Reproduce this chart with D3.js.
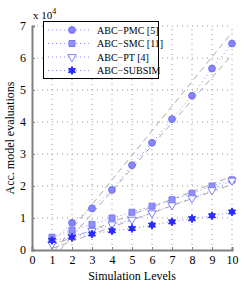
<!DOCTYPE html>
<html>
<head>
<meta charset="utf-8">
<script src="https://cdn.jsdelivr.net/npm/d3@7"></script>
<style>
  body { margin: 0; background: #fff; }
  text { font-family: "Liberation Serif", "DejaVu Serif", serif; }
</style>
</head>
<body>
<svg width="242" height="282"></svg>
<script>
const svg = d3.select("svg");

// data, in units of 10^4
const levels = [1, 2, 3, 4, 5, 6, 7, 8, 9, 10];
const pmc = [0.25, 0.85, 1.3, 1.88, 2.65, 3.35, 4.09, 4.82, 5.67, 6.45];
const smc = [0.4, 0.62, 0.8, 1.0, 1.18, 1.37, 1.57, 1.77, 2.0, 2.19];
const pt = [0.18, 0.42, 0.6, 0.8, 0.95, 1.15, 1.4, 1.62, 1.87, 2.17];
const subsim = [0.3, 0.4, 0.5, 0.6, 0.67, 0.78, 0.88, 0.98, 1.07, 1.19];
const seriesNames = ["ABC\u2212PMC [5]", "ABC\u2212SMC [11]", "ABC\u2212PT [4]", "ABC\u2212SUBSIM"];

// gray dashed guide lines: [x1, y1, x2, y2]
const guides = [
  [1.15, 0.0, 10, 6.8],
  [1.4, 0.0, 10, 6.1],
  [1, 0.15, 10, 2.3],
  [1, 0.05, 10, 2.05]
];

const xTicks = d3.range(0, 11);
const yTicks = d3.range(0, 8);

const x = d3.scaleLinear().domain([0, 10]).range([32, 232]);
const y = d3.scaleLinear().domain([0, 7]).range([250, 26]);

// six-pointed star (hexagram)
const hexagram = {
  draw(ctx, size) {
    const r = Math.sqrt(size / 2.2);
    const ri = r * 0.55;
    for (let k = 0; k < 12; k++) {
      const a = -Math.PI / 2 + k * Math.PI / 6;
      const rr = k % 2 === 0 ? r : ri;
      if (k === 0) ctx.moveTo(rr * Math.cos(a), rr * Math.sin(a));
      else ctx.lineTo(rr * Math.cos(a), rr * Math.sin(a));
    }
    ctx.closePath();
  }
};

// grid
svg.append("g").selectAll("line").data(xTicks.slice(1)).join("line")
  .attr("x1", d => x(d)).attr("x2", d => x(d))
  .attr("y1", y(0)).attr("y2", y(7))
  .attr("stroke", "#999").attr("stroke-width", 1).attr("stroke-dasharray", "1,4");
svg.append("g").selectAll("line").data(yTicks.slice(1)).join("line")
  .attr("x1", x(0)).attr("x2", x(10))
  .attr("y1", d => y(d)).attr("y2", d => y(d))
  .attr("stroke", "#999").attr("stroke-width", 1).attr("stroke-dasharray", "1,4");

// axes
const xAxis = svg.append("g").attr("transform", `translate(0,${y(0)})`)
  .call(d3.axisBottom(x).tickValues(xTicks).tickSize(-3).tickPadding(5).tickFormat(d3.format("d")));
const yAxis = svg.append("g").attr("transform", `translate(${x(0)},0)`)
  .call(d3.axisLeft(y).tickValues(yTicks).tickSize(-3).tickPadding(6).tickFormat(d3.format("d")));
[xAxis, yAxis].forEach(a => {
  a.select(".domain").attr("stroke", "#808080").attr("stroke-width", 2);
  a.selectAll(".tick line").attr("stroke", "#808080");
  a.selectAll("text").attr("font-family", "Liberation Serif").attr("font-size", 12).attr("fill", "#000");
});

// exponent label
const expo = svg.append("text").attr("x", 33).attr("y", 19).attr("font-size", 11);
expo.append("tspan").text("x 10");
expo.append("tspan").attr("dy", -5).attr("font-size", 8).text("4");

// axis titles
svg.append("text").attr("x", 132).attr("y", 280).attr("text-anchor", "middle")
  .attr("font-size", 12).text("Simulation Levels");
svg.append("text").attr("transform", "translate(14,138) rotate(-90)")
  .attr("text-anchor", "middle").attr("font-size", 12).text("Acc. model evaluations");

// guide lines
svg.append("g").selectAll("line").data(guides).join("line")
  .attr("x1", d => x(d[0])).attr("y1", d => y(d[1]))
  .attr("x2", d => x(d[2])).attr("y2", d => y(d[3]))
  .attr("stroke", "#aaa").attr("stroke-width", 1).attr("stroke-dasharray", "6,4");

const series = [
  { vals: pmc, sym: d3.symbolCircle, size: 36, fill: "#8585ff", stroke: "#7070f0" },
  { vals: smc, sym: d3.symbolSquare, size: 36, fill: "#8f8fff", stroke: "#7a7af0" },
  { vals: pt, sym: d3.symbolTriangle, size: 30, fill: "#fff", stroke: "#7f7fff", flip: true },
  { vals: subsim, sym: hexagram, size: 36, fill: "#2a2aff", stroke: "#2a2aff" }
];

const line = d3.line().x((d, i) => x(levels[i])).y(d => y(d));

series.forEach(s => {
  svg.append("path").datum(s.vals).attr("d", line)
    .attr("fill", "none").attr("stroke", "#8a8aff").attr("stroke-width", 1)
    .attr("stroke-dasharray", "1,3");
  svg.append("g").selectAll("path").data(s.vals).join("path")
    .attr("d", d3.symbol().type(s.sym).size(s.size))
    .attr("transform", (d, i) => `translate(${x(levels[i])},${y(d)})` + (s.flip ? " rotate(180)" : ""))
    .attr("fill", s.fill).attr("stroke", s.stroke).attr("stroke-width", 1);
});

// legend
const lg = svg.append("g");
lg.append("rect").attr("x", 43.5).attr("y", 21.5).attr("width", 115).attr("height", 57)
  .attr("fill", "#fff").attr("stroke", "#000").attr("stroke-width", 1);
series.forEach((s, i) => {
  const ly = 30 + i * 13.5;
  lg.append("line").attr("x1", 48).attr("x2", 92).attr("y1", ly).attr("y2", ly)
    .attr("stroke", "#8a8aff").attr("stroke-dasharray", "1,3");
  lg.append("path").attr("d", d3.symbol().type(s.sym).size(s.size)())
    .attr("transform", `translate(72,${ly})` + (s.flip ? " rotate(180)" : ""))
    .attr("fill", s.fill).attr("stroke", s.stroke);
  lg.append("text").attr("x", 97).attr("y", ly + 3.5).attr("font-size", 10).text(seriesNames[i]);
});
</script>
</body>
</html>
